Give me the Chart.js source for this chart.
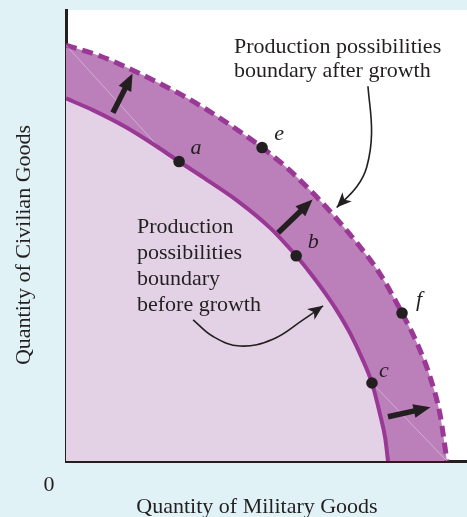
<!DOCTYPE html>
<html>
<head>
<meta charset="utf-8">
<script src="https://cdn.jsdelivr.net/npm/chart.js@4.4.1/dist/chart.umd.min.js"></script>
<style>
html,body{margin:0;padding:0;background:#e1f2f7;}
canvas{display:block;}
</style>
</head>
<body>
<canvas id="ppb" width="467" height="517"></canvas>
<script>
// Production possibilities boundary, before and after growth
// values, axis units 0..100 on both axes

const beforeX = [0, 6.7, 15.2, 23.4, 28.2, 34.2, 42.6, 50.9, 57.4, 60.8, 64.1, 67.6, 70.8, 73.8, 76.3, 78.3, 79.6, 80.3];
const beforeY = [80.4, 77.8, 73.9, 69.3, 66.4, 62.9, 57.8, 51.7, 45.5, 41.8, 37.9, 33.3, 28.4, 22.8, 17.3, 10.4, 5.1, 0];

const afterX = [0, 8.5, 16.0, 23.4, 28.4, 34.2, 42.6, 48.9, 55.1, 60.8, 65.8, 72.6, 78.3, 83.8, 87.5, 90.8, 93.3, 95.0];
const afterY = [92.2, 89.8, 86.9, 83.7, 81.4, 78.4, 73.5, 69.5, 65.0, 60.1, 55.4, 48.3, 41.5, 32.8, 26.2, 18.6, 10.2, 0];

// labelled combinations
const pointNames = ['a', 'b', 'c', 'e', 'f'];
const pointX = [28.2, 57.4, 76.3, 48.9, 83.8];
const pointY = [66.4, 45.5, 17.3, 69.5, 32.8];

// outward shift arrows (tail -> head)
const shiftTailX = [11.7, 52.9, 80.3];
const shiftTailY = [77.2, 50.6, 9.8];
const shiftHeadX = [16.6, 61.5, 90.9];
const shiftHeadY = [85.9, 58.0, 11.9];

// curved leader lines from the notes to the boundaries
const afterLeaderX = [75.3, 76.2, 75.0, 72.5, 67.5];
const afterLeaderY = [83.1, 72.7, 65.2, 60.8, 56.2];
const beforeLeaderX = [31.7, 36.7, 43.4, 51.6, 59.1, 64.1];
const beforeLeaderY = [31.3, 27.6, 25.5, 27.0, 31.3, 34.4];

// fill seams visible in the original artwork
const seam1X = [0, 23.4], seam1Y = [92.2, 69.3];
const seam2X = [76.3, 95.0], seam2Y = [17.3, 0];

const afterNote = ['Production possibilities', 'boundary after growth'];
const beforeNote = ['Production', 'possibilities', 'boundary', 'before growth'];
const xTitle = 'Quantity of Military Goods';
const yTitle = 'Quantity of Civilian Goods';

const INK = '#231f20';
const PURPLE = '#9a3896';
const FONT = '"Liberation Serif", "Times New Roman", serif';

const xy = (xs, ys) => xs.map((x, i) => ({x: x, y: ys[i]}));

// label offsets (pixels) for a b c e f
const labelOff = [[17, -13], [17, -14], [12, -12], [17, -13], [17, -13]];

function arrowHead(ctx, tx, ty, fx, fy, len, half, notch){
  const ang = Math.atan2(ty - fy, tx - fx);
  ctx.save();
  ctx.translate(tx, ty);
  ctx.rotate(ang);
  ctx.beginPath();
  ctx.moveTo(0, 0);
  ctx.lineTo(-len, -half);
  ctx.lineTo(-len + notch, 0);
  ctx.lineTo(-len, half);
  ctx.closePath();
  ctx.fill();
  ctx.restore();
}

const decor = {
  id: 'decor',
  beforeDraw(chart){
    const {ctx, chartArea: ca, width, height} = chart;
    ctx.save();
    ctx.fillStyle = '#e1f2f7';
    ctx.fillRect(0, 0, width, height);
    ctx.fillStyle = '#ffffff';
    ctx.fillRect(ca.left, ca.top, width - ca.left, ca.bottom - ca.top);
    ctx.restore();
  },
  afterDatasetsDraw(chart){
    const ctx = chart.ctx;
    const sx = chart.scales.x, sy = chart.scales.y;
    ctx.save();
    ctx.fillStyle = INK;
    ctx.strokeStyle = INK;
    // thick shift arrows
    for (let i = 0; i < shiftTailX.length; i++){
      const x0 = sx.getPixelForValue(shiftTailX[i]), y0 = sy.getPixelForValue(shiftTailY[i]);
      const x1 = sx.getPixelForValue(shiftHeadX[i]), y1 = sy.getPixelForValue(shiftHeadY[i]);
      const d = Math.hypot(x1 - x0, y1 - y0);
      const ux = (x1 - x0) / d, uy = (y1 - y0) / d;
      ctx.lineWidth = 5.5;
      ctx.lineCap = 'butt';
      ctx.beginPath();
      ctx.moveTo(x0, y0);
      ctx.lineTo(x1 - ux * 14, y1 - uy * 14);
      ctx.stroke();
      arrowHead(ctx, x1, y1, x0, y0, 17, 7, 0);
    }
    // heads on the curved leaders, pointing along the last control tangent
    [1, 2].forEach(idx => {
      const pts = chart.getDatasetMeta(idx).data;
      const last = pts[pts.length - 1];
      const fx = last.cp1x != null ? last.cp1x : pts[pts.length - 2].x;
      const fy = last.cp1y != null ? last.cp1y : pts[pts.length - 2].y;
      arrowHead(ctx, last.x, last.y, fx, fy, 15, 6.5, 4);
    });
    ctx.restore();
  },
  afterDraw(chart){
    const ctx = chart.ctx;
    const sx = chart.scales.x, sy = chart.scales.y;
    ctx.save();
    ctx.fillStyle = INK;
    ctx.font = '22px ' + FONT;
    ctx.textBaseline = 'alphabetic';
    ctx.textAlign = 'left';
    afterNote.forEach((t, i) => ctx.fillText(t, sx.getPixelForValue(41.9), sy.getPixelForValue(90.5) + i * 24));
    beforeNote.forEach((t, i) => ctx.fillText(t, sx.getPixelForValue(17.7), sy.getPixelForValue(50.6) + i * 26));

    // point letters
    ctx.font = 'italic 22px ' + FONT;
    ctx.textAlign = 'center';
    ctx.textBaseline = 'middle';
    pointNames.forEach((n, i) => {
      ctx.fillText(n, sx.getPixelForValue(pointX[i]) + labelOff[i][0], sy.getPixelForValue(pointY[i]) + labelOff[i][1]);
    });

    // axis titles and origin
    ctx.font = '22px ' + FONT;
    ctx.textBaseline = 'alphabetic';
    ctx.fillText(xTitle, 257, 513);
    ctx.fillText('0', 49, 491);
    ctx.translate(30, 245);
    ctx.rotate(-Math.PI / 2);
    ctx.fillText(yTitle, 0, 0);
    ctx.restore();
  }
};

new Chart(document.getElementById('ppb'), {
  type: 'line',
  data: {
    datasets: [
      {label: 'points', data: xy(pointX, pointY), showLine: false, pointRadius: 5.8, pointBackgroundColor: INK, pointBorderWidth: 0},
      {label: 'after note', data: xy(afterLeaderX, afterLeaderY), borderColor: INK, borderWidth: 1.6, pointRadius: 0, tension: 0.4, fill: false},
      {label: 'before note', data: xy(beforeLeaderX, beforeLeaderY), borderColor: INK, borderWidth: 1.6, pointRadius: 0, tension: 0.4, fill: false},
      {label: 'before growth', data: xy(beforeX, beforeY), borderColor: PURPLE, borderWidth: 4, pointRadius: 0, cubicInterpolationMode: 'monotone', fill: 'origin', backgroundColor: '#e3d2e6'},
      {label: 'seam1', data: xy(seam1X, seam1Y), borderColor: 'rgba(255,255,255,0.45)', borderWidth: 0.8, pointRadius: 0, fill: false},
      {label: 'seam2', data: xy(seam2X, seam2Y), borderColor: 'rgba(255,255,255,0.45)', borderWidth: 0.8, pointRadius: 0, fill: false},
      {label: 'after growth', data: xy(afterX, afterY), borderColor: PURPLE, borderWidth: 5, borderDash: [11, 6], pointRadius: 0, cubicInterpolationMode: 'monotone', fill: 'origin', backgroundColor: '#bb80b9'}
    ]
  },
  options: {
    responsive: false,
    animation: false,
    devicePixelRatio: 1,
    layout: {autoPadding: false, padding: {left: 66, top: 10, right: 0, bottom: 56}},
    plugins: {legend: {display: false}, tooltip: {enabled: false}},
    scales: {
      x: {type: 'linear', min: 0, max: 100, z: 1,
          ticks: {display: false}, grid: {display: false, drawTicks: false},
          border: {display: true, color: INK, width: 3}},
      y: {type: 'linear', min: 0, max: 100, z: 1,
          ticks: {display: false}, grid: {display: false, drawTicks: false},
          border: {display: true, color: INK, width: 3}}
    }
  },
  plugins: [decor]
});
</script>
</body>
</html>
